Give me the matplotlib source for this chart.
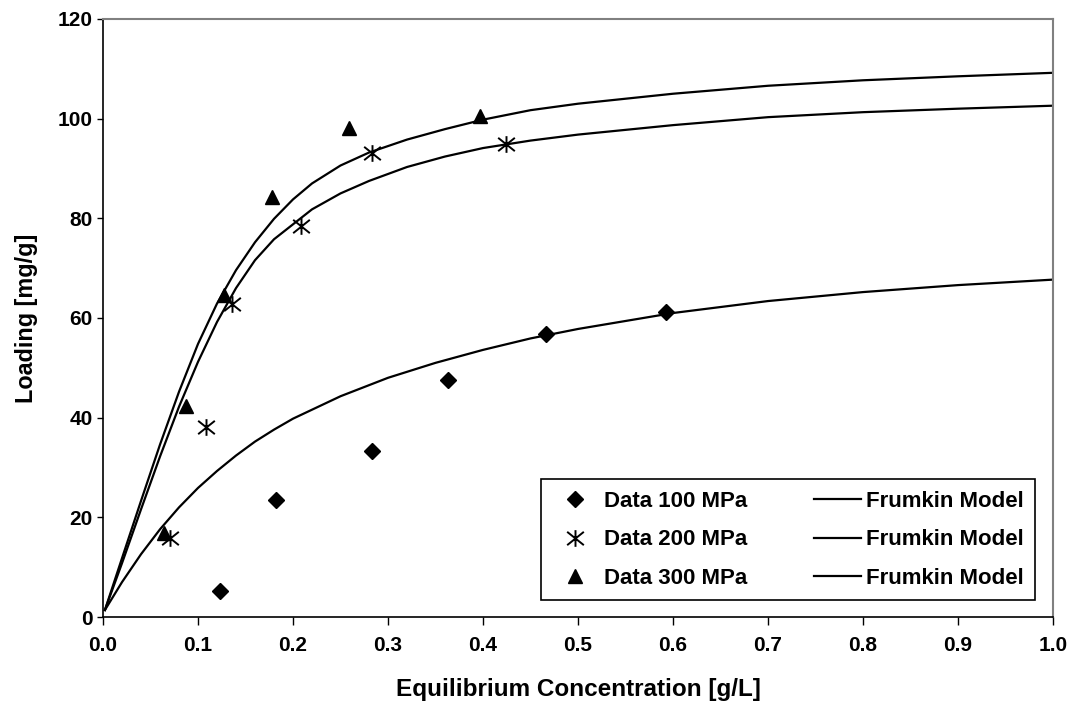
import matplotlib.pyplot as plt
from matplotlib.path import Path

plt.rcParams['font.family'] = ['Liberation Sans', 'DejaVu Sans']
plt.rcParams['font.weight'] = 'bold'

# measured data
x100 = [0.123, 0.182, 0.283, 0.363, 0.466, 0.593]
y100 = [5.2, 23.5, 33.3, 47.5, 56.8, 61.3]
x200 = [0.0705, 0.108, 0.136, 0.208, 0.283, 0.424]
y200 = [15.8, 38.2, 62.9, 78.4, 93.2, 95.0]
x300 = [0.0646, 0.0874, 0.127, 0.178, 0.259, 0.397]
y300 = [16.8, 42.4, 64.7, 84.2, 98.1, 100.6]

# Frumkin model curves
mx100 = [0.002, 0.02, 0.04, 0.06, 0.08, 0.10, 0.12, 0.14, 0.16, 0.18, 0.20,
         0.25, 0.30, 0.35, 0.40, 0.45, 0.50, 0.60, 0.70, 0.80, 0.90, 1.0]
my100 = [1.4, 7.0, 12.6, 17.6, 22.0, 25.9, 29.3, 32.4, 35.2, 37.6, 39.8,
         44.3, 48.0, 51.0, 53.6, 55.9, 57.8, 61.0, 63.4, 65.2, 66.6, 67.7]
mx200 = [0.002, 0.02, 0.04, 0.06, 0.08, 0.10, 0.12, 0.14, 0.16, 0.18, 0.20,
         0.22, 0.25, 0.28, 0.32, 0.36, 0.40, 0.45, 0.50, 0.60, 0.70, 0.80,
         0.90, 1.0]
my200 = [1.4, 10.8, 21.6, 32.2, 42.2, 51.2, 59.2, 66.0, 71.6, 75.8, 78.8,
         81.8, 85.0, 87.5, 90.3, 92.4, 94.1, 95.6, 96.8, 98.7, 100.3, 101.3,
         102.0, 102.6]
mx300 = [0.002, 0.02, 0.04, 0.06, 0.08, 0.10, 0.12, 0.14, 0.16, 0.18, 0.20,
         0.22, 0.25, 0.28, 0.32, 0.36, 0.40, 0.45, 0.50, 0.60, 0.70, 0.80,
         0.90, 1.0]
my300 = [1.4, 11.8, 23.3, 34.6, 45.2, 54.8, 62.9, 69.6, 75.2, 79.9, 83.8,
         87.0, 90.6, 93.2, 95.8, 97.9, 99.8, 101.7, 103.0, 105.0, 106.6, 107.7,
         108.5, 109.2]

# six-armed star marker like the excel one
star = Path([(0, -1), (0, 1), (-1, -0.8), (1, 0.8), (-1, 0.8), (1, -0.8)],
            [Path.MOVETO, Path.LINETO] * 3)

fig = plt.figure(figsize=(10.73, 7.11), dpi=100)
ax = fig.add_axes([0.096, 0.1322, 0.8854, 0.8411])

d1, = ax.plot(x100, y100, 'D', color='black', ms=8, ls='none')
d2, = ax.plot(x200, y200, marker=star, color='black', mfc='none', mew=1.4,
              ms=12, ls='none')
d3, = ax.plot(x300, y300, '^', color='black', ms=10, ls='none')
m1, = ax.plot(mx100, my100, color='black', lw=1.6)
m2, = ax.plot(mx200, my200, color='black', lw=1.6)
m3, = ax.plot(mx300, my300, color='black', lw=1.6)

ax.set_xlim(0, 1.0)
ax.set_ylim(0, 120)
ax.set_xticks([i / 10 for i in range(11)])
ax.set_xticklabels(['%.1f' % (i / 10) for i in range(11)])
ax.set_yticks(range(0, 121, 20))
ax.tick_params(axis='x', direction='out', length=6, width=1, labelsize=15, pad=8)
ax.tick_params(axis='y', direction='out', length=4, width=1, labelsize=15, pad=3.5)
ax.spines['top'].set_color('#808080')
ax.spines['right'].set_color('#808080')
ax.spines['top'].set_linewidth(1.5)
ax.spines['right'].set_linewidth(1.5)
ax.spines['left'].set_linewidth(1.2)
ax.spines['bottom'].set_linewidth(1.2)

ax.set_xlabel('Equilibrium Concentration [g/L]', fontsize=17.5, fontweight='bold', labelpad=16)
ax.set_ylabel('Loading [mg/g]', fontsize=16.8, fontweight='bold', labelpad=14)

leg = ax.legend([d1, d2, d3, m1, m2, m3],
                ['Data 100 MPa', 'Data 200 MPa', 'Data 300 MPa',
                 'Frumkin Model', 'Frumkin Model', 'Frumkin Model'],
                ncol=2, loc='lower right', bbox_to_anchor=(0.981, 0.028),
                borderaxespad=0, fontsize=16, frameon=True, fancybox=False,
                edgecolor='black', handlelength=2.1, handletextpad=0.25,
                columnspacing=3.0, labelspacing=0.8, borderpad=0.5)
leg.get_frame().set_linewidth(1.2)
leg.get_frame().set_alpha(1)

fig.savefig('out.png', dpi=100)
